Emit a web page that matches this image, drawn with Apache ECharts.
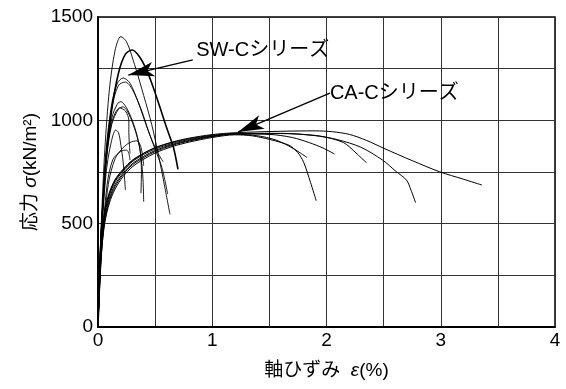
<!DOCTYPE html>
<html>
<head>
<meta charset="utf-8">
<script src="https://cdn.jsdelivr.net/npm/echarts@6/dist/echarts.min.js"></script>
<style>html,body{margin:0;padding:0;background:#fff}#c{width:566px;height:389px}</style>
</head>
<body>
<div id="c"></div>
<script>
// ---- tick labels ----
const xTickLabels = [0, 1, 2, 3, 4];
const yTickLabels = [0, 500, 1000, 1500];

// ---- SW-C series curves [strain %, stress kN/m2] ----
const sw1 = [[0,0],[0.015,300],[0.03,520],[0.06,860],[0.1,1150],[0.15,1340],[0.2,1405],[0.25,1380],[0.32,1270],[0.4,1120],[0.47,980],[0.53,830],[0.58,690],[0.63,545]];
const sw2 = [[0,0],[0.015,260],[0.03,460],[0.07,800],[0.12,1050],[0.18,1230],[0.24,1320],[0.3,1340],[0.36,1310],[0.42,1250],[0.48,1165],[0.55,1050],[0.6,965],[0.66,870],[0.7,763]];
const sw3 = [[0,0],[0.015,280],[0.03,490],[0.07,850],[0.12,1080],[0.17,1180],[0.22,1205],[0.28,1180],[0.35,1090],[0.42,980],[0.5,860],[0.56,770],[0.61,643]];
const sw4 = [[0,0],[0.015,270],[0.03,470],[0.07,830],[0.12,1060],[0.18,1170],[0.24,1185],[0.3,1150],[0.38,1050],[0.45,935],[0.52,845],[0.57,800]];
const sw5 = [[0,0],[0.015,280],[0.03,480],[0.07,820],[0.12,1010],[0.17,1080],[0.2,1090],[0.25,1060],[0.3,1000],[0.34,930],[0.37,850],[0.38,750],[0.376,647]];
const sw6 = [[0,0],[0.015,260],[0.03,460],[0.07,790],[0.12,980],[0.18,1055],[0.22,1065],[0.27,1030],[0.32,960],[0.36,880],[0.385,780],[0.395,700],[0.40,606]];
const sw7 = [[0,0],[0.015,250],[0.03,440],[0.07,740],[0.11,880],[0.155,953],[0.18,940],[0.2,880],[0.22,800],[0.23,735],[0.24,663]];
const sw8 = [[0,0],[0.02,260],[0.04,440],[0.08,690],[0.13,810],[0.2,850],[0.25,856],[0.27,840],[0.28,808]];
const sw9 = [[0,0],[0.02,250],[0.04,420],[0.09,690],[0.15,815],[0.22,868],[0.28,893],[0.34,901],[0.37,880],[0.39,830],[0.40,780]];
const sw10 = [[0,0],[0.015,270],[0.03,470],[0.07,810],[0.12,990],[0.19,1060],[0.24,1045],[0.27,1000],[0.27,940],[0.275,880],[0.28,840]];

// ---- CA-C series curves [strain %, stress kN/m2] ----
const ca1 = [[0,0],[0.01,150],[0.03,360],[0.06,505],[0.1,600],[0.15,668],[0.22,728],[0.3,775],[0.4,812],[0.5,842],[0.65,873],[0.8,895],[1.0,917],[1.2,930],[1.35,925],[1.5,908],[1.6,893],[1.68,877],[1.75,843],[1.8,797],[1.86,700],[1.91,611]];
const ca2 = [[0,0],[0.01,190],[0.03,410],[0.06,550],[0.1,638],[0.15,703],[0.22,755],[0.3,800],[0.4,835],[0.5,861],[0.65,888],[0.8,907],[1.0,925],[1.2,933],[1.4,925],[1.55,906],[1.67,876],[1.76,846],[1.83,820]];
const ca3 = [[0,0],[0.01,165],[0.03,375],[0.06,518],[0.1,612],[0.15,680],[0.22,738],[0.3,784],[0.4,820],[0.5,849],[0.65,879],[0.8,900],[1.0,921],[1.2,934],[1.5,932],[1.7,917],[1.85,892],[1.97,866],[2.07,837]];
const ca4 = [[0,0],[0.01,210],[0.03,430],[0.06,570],[0.1,652],[0.15,714],[0.22,764],[0.3,807],[0.4,841],[0.5,867],[0.65,893],[0.8,911],[1.0,928],[1.2,936],[1.6,937],[1.9,926],[2.05,911],[2.15,892],[2.2,872],[2.27,836],[2.35,795]];
const ca5 = [[0,0],[0.01,175],[0.03,392],[0.06,532],[0.1,624],[0.15,690],[0.22,745],[0.3,790],[0.4,826],[0.5,854],[0.65,883],[0.8,903],[1.0,923],[1.2,935],[1.6,936],[1.9,927],[2.1,906],[2.3,870],[2.49,808],[2.61,752],[2.7,711],[2.74,662],[2.78,601]];
const ca6 = [[0,0],[0.01,195],[0.03,418],[0.06,558],[0.1,646],[0.15,710],[0.22,760],[0.3,804],[0.4,840],[0.5,868],[0.65,895],[0.8,914],[1.0,931],[1.2,940],[1.6,947],[1.9,949],[2.05,945],[2.2,932],[2.35,903],[2.5,865],[2.75,805],[2.99,751],[3.2,715],[3.36,687]];

// ---- annotations ----
const swLabel = 'SW-Cシリーズ';
const caLabel = 'CA-Cシリーズ';
const swArrow = [[0.83, 1292], [0.265, 1219]];
const caArrow = [[2.03, 1132], [1.225, 943]];
const swLabelPos = [0.86, 1340];
const caLabelPos = [2.03, 1132];

const FONT = "'Liberation Sans', Arial, 'Noto Sans CJK JP', sans-serif";

const swCurves = [sw1, sw2, sw3, sw4, sw5, sw6, sw7, sw8, sw9, sw10];
const swWidths = [0.9, 1.6, 0.9, 0.9, 0.9, 0.9, 0.9, 0.9, 0.9, 0.9];
const caCurves = [ca1, ca2, ca3, ca4, ca5, ca6];

const series = [];
swCurves.forEach((d, i) => series.push({
  type: 'line', data: d, showSymbol: false, symbol: 'none', smooth: 0.3,
  lineStyle: { color: '#000', width: swWidths[i] }, silent: true
}));
caCurves.forEach((d) => series.push({
  type: 'line', data: d, showSymbol: false, symbol: 'none', smooth: 0.3,
  lineStyle: { color: '#000', width: 1.0 }, silent: true
}));

function arrowLine(a) {
  return [{ coord: a[0], symbol: 'none' }, { coord: a[1], symbol: 'arrow', symbolSize: [11, 26] }];
}
function textPoint(pos, txt) {
  return { coord: pos, symbol: 'circle', symbolSize: 0,
    label: { show: true, position: 'right', distance: 0, formatter: txt,
      color: '#000', fontSize: 20, fontFamily: FONT } };
}

series.push({
  type: 'line', data: [], silent: true,
  markLine: {
    silent: true, animation: false,
    lineStyle: { color: '#000', width: 1.3, type: 'solid' },
    label: { show: false },
    data: [arrowLine(swArrow), arrowLine(caArrow)]
  },
  markPoint: {
    silent: true, animation: false,
    data: [textPoint(swLabelPos, swLabel), textPoint(caLabelPos, caLabel)]
  }
});

const chart = echarts.init(document.getElementById('c'), null, { renderer: 'canvas' });
chart.setOption({
  animation: false,
  backgroundColor: '#fff',
  grid: { left: 98, right: 11, top: 17, bottom: 62, show: true, borderColor: '#000', borderWidth: 1.5, backgroundColor: 'transparent' },
  xAxis: {
    type: 'value', min: 0, max: 4, interval: 0.5,
    name: '{a|軸ひずみ  }{e|ε}{a|(%)}',
    nameLocation: 'middle', nameGap: 34,
    nameTextStyle: { rich: {
      a: { fontSize: 19, fontFamily: FONT, color: '#000' },
      e: { fontSize: 19, fontFamily: FONT, color: '#000', fontStyle: 'italic' } } },
    axisLine: { show: true, lineStyle: { color: '#000', width: 1.8 } },
    axisTick: { show: false },
    axisLabel: { color: '#000', fontSize: 19, fontFamily: FONT, margin: 4,
      formatter: v => xTickLabels.indexOf(v) >= 0 ? String(v) : '' },
    splitLine: { show: true, lineStyle: { color: '#333', width: 1 } }
  },
  yAxis: {
    type: 'value', min: 0, max: 1500, interval: 250,
    name: '{a|応力 }{e|σ}{a|(kN/m²)}',
    nameLocation: 'middle', nameGap: 58, nameRotate: 90,
    nameTextStyle: { rich: {
      a: { fontSize: 19, fontFamily: FONT, color: '#000' },
      e: { fontSize: 19, fontFamily: FONT, color: '#000', fontStyle: 'italic' } } },
    axisLine: { show: true, lineStyle: { color: '#000', width: 1.8 } },
    axisTick: { show: false },
    axisLabel: { color: '#000', fontSize: 19, fontFamily: FONT, margin: 5,
      formatter: v => yTickLabels.indexOf(v) >= 0 ? String(v) : '' },
    splitLine: { show: true, lineStyle: { color: '#333', width: 1 } }
  },
  series: series
});
</script>
</body>
</html>
